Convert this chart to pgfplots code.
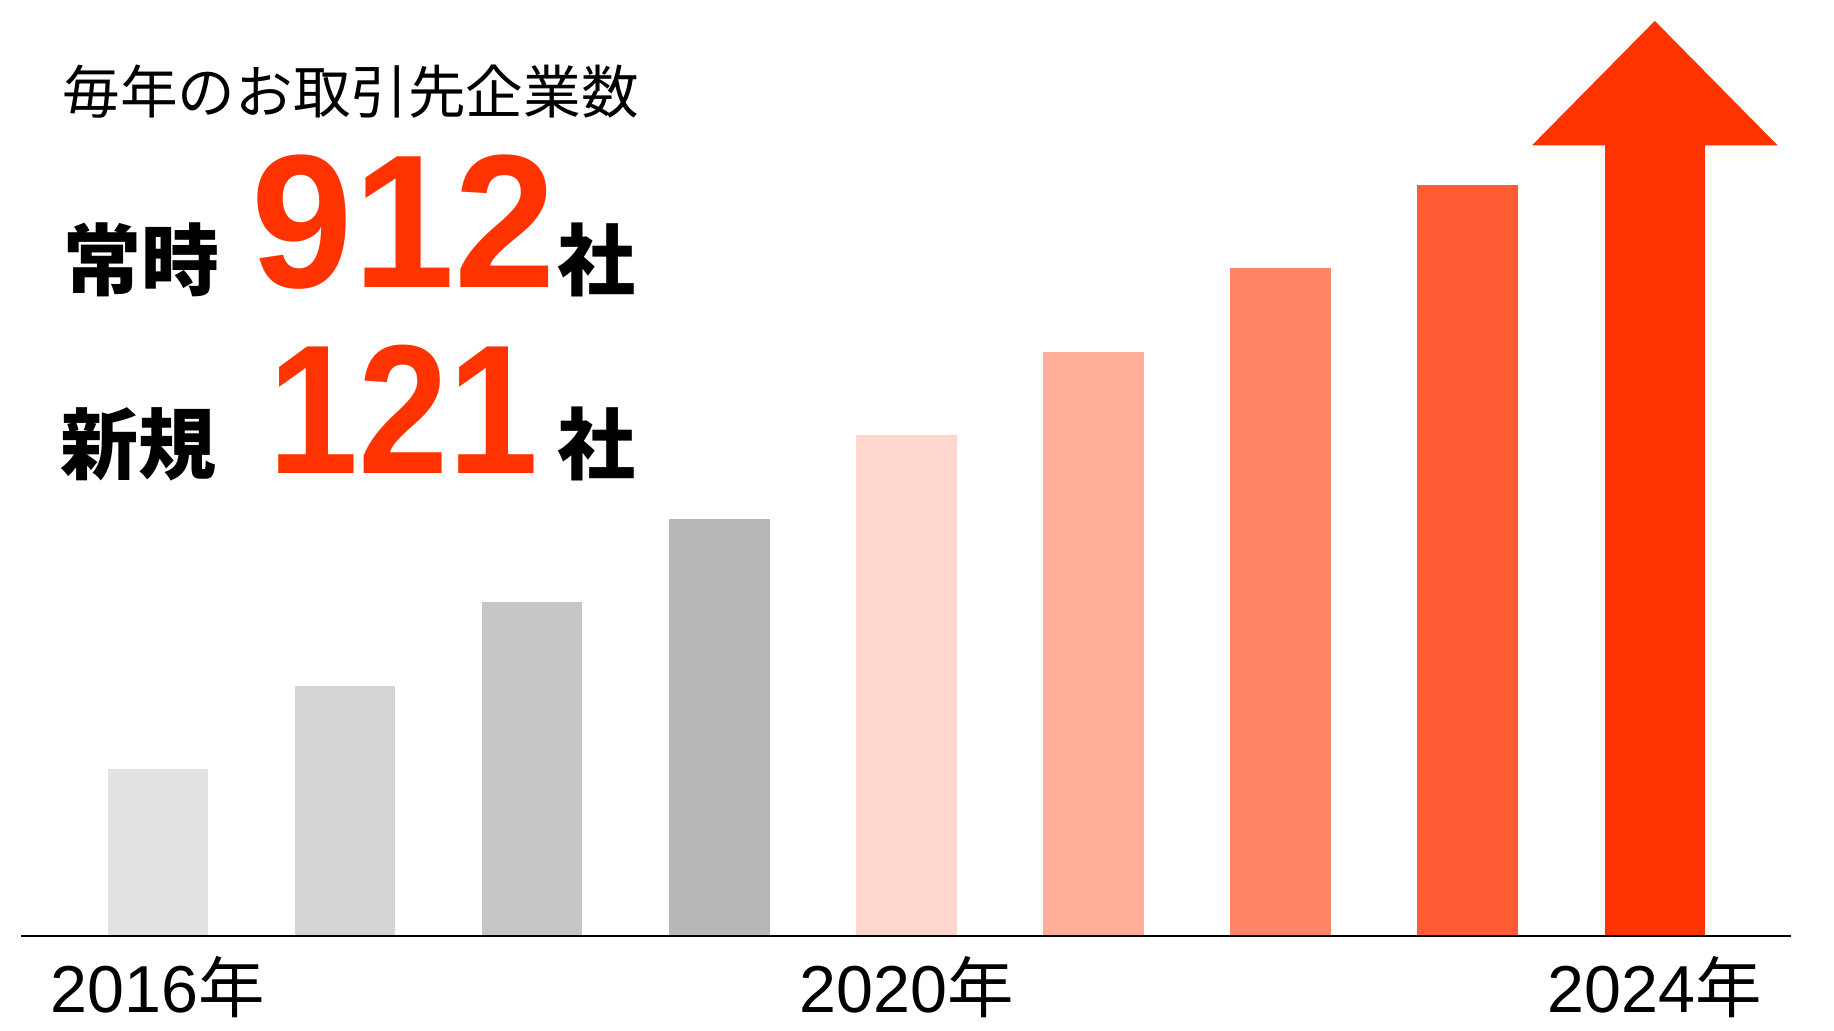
\documentclass[border=0pt]{standalone}
\usepackage{fontspec}
\setmainfont{Liberation Sans}
\newfontfamily\jp{Noto Sans CJK JP}
\newfontfamily\numfont[FakeStretch=0.96]{Liberation Sans}
\newfontfamily\numfontn[FakeStretch=0.88]{Liberation Sans}
\usepackage{pgfplots}
\pgfplotsset{compat=1.18}

\definecolor{g1}{HTML}{E2E2E2}
\definecolor{g2}{HTML}{D4D4D4}
\definecolor{g3}{HTML}{C6C6C6}
\definecolor{g4}{HTML}{B7B7B7}
\definecolor{r1}{HTML}{FFD6CC}
\definecolor{r2}{HTML}{FFAD99}
\definecolor{r3}{HTML}{FF8566}
\definecolor{r4}{HTML}{FF5C33}
\definecolor{r5}{HTML}{FF3300}

\begin{document}
\begin{tikzpicture}
\path[use as bounding box] (-5.25pt,-23.5pt) rectangle (453.25pt,234pt);
\begin{axis}[
  at={(0pt,0pt)}, anchor=south west,
  scale only axis, width=442.5pt, height=234pt,
  xmin=-0.732, xmax=8.728, ymin=0, ymax=11.21,
  axis x line*=bottom, axis y line=none,
  axis line style={line width=0.6pt, black},
  axis on top=true,
  xtick={0,4,8},
  xticklabels={2016{\jp 年},2020{\jp 年},2024{\jp 年}},
  major tick length=0pt,
  xticklabel style={font=\fontsize{16.6pt}{16.6pt}\selectfont, anchor=north, inner sep=0pt, yshift=-4.8pt},
  ytick=\empty,
  clip=false,
  every axis plot/.append style={draw=none},
]
% yearly bars, 2016 .. 2024
\addplot[ybar, bar width=0.5375, bar shift=0pt, fill=g1] coordinates {(0,2)};
\addplot[ybar, bar width=0.5375, bar shift=0pt, fill=g2] coordinates {(1,3)};
\addplot[ybar, bar width=0.5375, bar shift=0pt, fill=g3] coordinates {(2,4)};
\addplot[ybar, bar width=0.5375, bar shift=0pt, fill=g4] coordinates {(3,5)};
\addplot[ybar, bar width=0.5375, bar shift=0pt, fill=r1] coordinates {(4,6)};
\addplot[ybar, bar width=0.5375, bar shift=0pt, fill=r2] coordinates {(5,7)};
\addplot[ybar, bar width=0.5375, bar shift=0pt, fill=r3] coordinates {(6,8)};
\addplot[ybar, bar width=0.5375, bar shift=0pt, fill=r4] coordinates {(7,9)};
\addplot[ybar, bar width=0.5375, bar shift=0pt, fill=r5] coordinates {(8,9.49)};
% arrow head on the last bar
\addplot[fill=r5, draw=none] coordinates {(7.344,9.47) (8,10.96) (8.656,9.47)} -- cycle;
\end{axis}

\begin{scope}[x=0.25pt, y=-0.25pt, shift={(-5.25pt,234pt)}]
\node[anchor=west, inner sep=0pt, font=\jp\fontsize{14.4pt}{14.4pt}\selectfont] at (62,92) {毎年のお取引先企業数};
\node[anchor=west, inner sep=0pt, font=\jp\bfseries\fontsize{19.5pt}{19.5pt}\selectfont] at (63,260) {常時};
\node[anchor=east, inner sep=0pt, text=r5, font=\numfont\bfseries\fontsize{47.5pt}{47.5pt}\selectfont] at (557,222) {912};
\node[anchor=west, inner sep=0pt, font=\jp\bfseries\fontsize{19.5pt}{19.5pt}\selectfont] at (557,260) {社};
\node[anchor=west, inner sep=0pt, font=\jp\bfseries\fontsize{19.5pt}{19.5pt}\selectfont] at (60,444) {新規};
\node[anchor=east, inner sep=0pt, text=r5, font=\numfontn\bfseries\fontsize{46pt}{46pt}\selectfont] at (539,409) {121};
\node[anchor=west, inner sep=0pt, font=\jp\bfseries\fontsize{19.5pt}{19.5pt}\selectfont] at (557,444) {社};
\end{scope}
\end{tikzpicture}
\end{document}
